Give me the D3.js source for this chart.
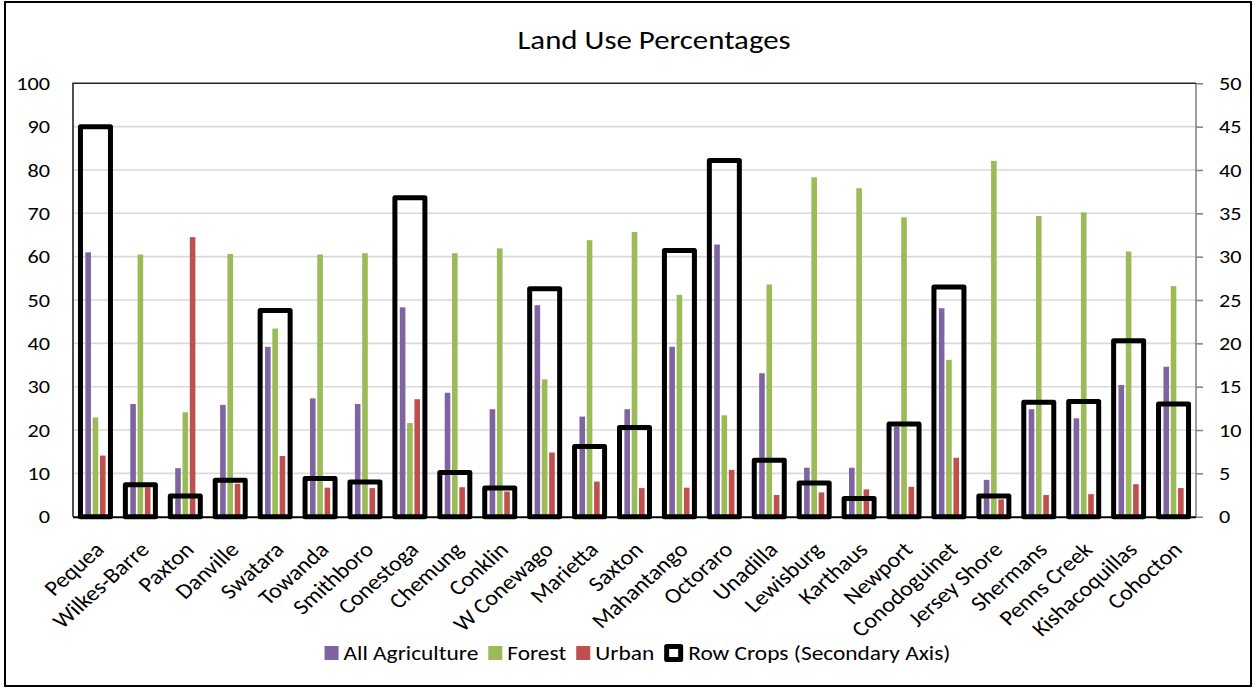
<!DOCTYPE html>
<html>
<head>
<meta charset="utf-8">
<script src="https://cdn.jsdelivr.net/npm/d3@7"></script>
<style>
  html, body { margin: 0; padding: 0; background: #fff; }
  svg { display: block; font-family: Carlito, Lato, "Open Sans", sans-serif; }
</style>
</head>
<body>
<svg id="chart" width="1255" height="688"></svg>
<script>
// Watersheds, in display order
const categories = ["Pequea", "Wilkes-Barre", "Paxton", "Danville", "Swatara", "Towanda",
  "Smithboro", "Conestoga", "Chemung", "Conklin", "W Conewago", "Marietta", "Saxton",
  "Mahantango", "Octoraro", "Unadilla", "Lewisburg", "Karthaus", "Newport", "Conodoguinet",
  "Jersey Shore", "Shermans", "Penns Creek", "Kishacoquillas", "Cohocton"];

// Percent of watershed area (primary axis)
const agriculture = [61.0, 26.0, 11.2, 25.8, 39.2, 27.3, 26.0, 48.3, 28.6, 24.8, 48.8, 23.1, 24.8,
  39.2, 62.8, 33.1, 11.3, 11.3, 20.8, 48.1, 8.5, 24.8, 22.7, 30.4, 34.6];
const forest = [22.9, 60.5, 24.1, 60.6, 43.4, 60.5, 60.8, 21.6, 60.8, 61.9, 31.7, 63.8, 65.7,
  51.2, 23.4, 53.6, 78.3, 75.8, 69.1, 36.2, 82.1, 69.4, 70.2, 61.2, 53.2];
const urban = [14.1, 6.8, 64.5, 7.6, 14.0, 6.7, 6.6, 27.1, 6.8, 5.8, 14.8, 8.1, 6.6,
  6.7, 10.8, 5.0, 5.6, 6.3, 6.9, 13.6, 4.0, 5.0, 5.2, 7.5, 6.6];

// Row crops percent (secondary axis)
const rowCrops = [45.0, 3.7, 2.4, 4.2, 23.8, 4.4, 4.0, 36.8, 5.1, 3.3, 26.3, 8.1, 10.3,
  30.7, 41.1, 6.5, 3.9, 2.1, 10.7, 26.5, 2.4, 13.2, 13.3, 20.3, 13.0];

const leftTicks = [0, 10, 20, 30, 40, 50, 60, 70, 80, 90, 100];
const rightTicks = [0, 5, 10, 15, 20, 25, 30, 35, 40, 45, 50];

const seriesNames = ["All Agriculture", "Forest", "Urban"];
const seriesColors = ["#8064A2", "#9BBB59", "#C0504D"];

const svg = d3.select("#chart");
const W = 1255, H = 688;
const plot = { left: 73, right: 1196, top: 83.3, bottom: 516.7 };
const sx = 1.17;          // the chart's text is drawn slightly wide
const catSx = 1.12;
const tickFont = 19, legendFont = 20, catFont = 21.5, titleFont = 26.4;

// Outer chart frame
svg.append("rect")
  .attr("x", 5).attr("y", 2).attr("width", W - 9).attr("height", H - 4)
  .attr("fill", "#fff").attr("stroke", "#000").attr("stroke-width", 2);

// Title
svg.append("text")
  .attr("transform", `translate(654,49) scale(${sx},1)`)
  .attr("text-anchor", "middle")
  .attr("font-size", titleFont)
  .attr("fill", "#000")
  .text("Land Use Percentages");

const x = d3.scaleBand().domain(categories).range([plot.left, plot.right]).padding(0);
const y = d3.scaleLinear().domain([0, 100]).range([plot.bottom, plot.top]);
const y2 = d3.scaleLinear().domain([0, 50]).range([plot.bottom, plot.top]);

// Gridlines
svg.append("g")
  .selectAll("line")
  .data(leftTicks.filter(t => t > 0 && t < 100))
  .join("line")
  .attr("x1", plot.left).attr("x2", plot.right)
  .attr("y1", d => y(d)).attr("y2", d => y(d))
  .attr("stroke", "#d9d9d9").attr("stroke-width", 1.6);

// Left axis labels
const leftAxis = d3.axisLeft(y).tickValues(leftTicks).tickSize(0);
const gL = svg.append("g").attr("transform", `translate(${plot.left},0)`).call(leftAxis);
gL.select(".domain").remove();
gL.selectAll("text")
  .attr("x", 0)
  .attr("transform", `translate(-23,0) scale(${sx},1)`)
  .attr("font-size", tickFont).attr("fill", "#000")
  .attr("font-family", "Carlito, Lato, sans-serif");

// Right (secondary) axis
const rightAxis = d3.axisRight(y2).tickValues(rightTicks).tickSize(7);
const gR = svg.append("g").attr("transform", `translate(${plot.right},0)`).call(rightAxis);
gR.select(".domain").attr("stroke", "#868686").attr("stroke-width", 1.6).attr("d",
  `M0,${plot.top}V${plot.bottom}`);
gR.selectAll(".tick line").attr("stroke", "#868686").attr("stroke-width", 1.6);
gR.selectAll("text")
  .attr("x", 0)
  .attr("transform", `translate(23,0) scale(${sx},1)`)
  .attr("font-size", tickFont).attr("fill", "#000")
  .attr("font-family", "Carlito, Lato, sans-serif");

// Plot area top and left edges
svg.append("path")
  .attr("d", `M${plot.left},${plot.bottom}V${plot.top}H${plot.right}`)
  .attr("fill", "none").attr("stroke", "#262626").attr("stroke-width", 1.6);

// Clustered bars on the primary axis
const barW = 5.6, barStep = 7.3;
const seriesData = [agriculture, forest, urban];
const barsG = svg.append("g");
seriesData.forEach((vals, si) => {
  barsG.append("g")
    .selectAll("rect")
    .data(vals)
    .join("rect")
    .attr("x", (d, i) => x(categories[i]) + x.bandwidth() / 2 + (si - 1) * barStep - barW / 2)
    .attr("width", barW)
    .attr("y", d => y(d))
    .attr("height", d => y(0) - y(d))
    .attr("fill", seriesColors[si]);
});

// Category axis line
svg.append("line")
  .attr("x1", plot.left).attr("x2", plot.right)
  .attr("y1", plot.bottom + 0.5).attr("y2", plot.bottom + 0.5)
  .attr("stroke", "#000").attr("stroke-width", 2);

// Row crops: outlined boxes on the secondary axis
const boxW = 30;
svg.append("g")
  .selectAll("rect")
  .data(rowCrops)
  .join("rect")
  .attr("x", (d, i) => x(categories[i]) + x.bandwidth() / 2 - boxW / 2)
  .attr("width", boxW)
  .attr("y", d => y2(d))
  .attr("height", d => y2(0) - y2(d))
  .attr("fill", "none")
  .attr("stroke", "#000")
  .attr("stroke-width", 5)
  .attr("stroke-linejoin", "round");

// Rotated category labels
svg.append("g")
  .selectAll("text")
  .data(categories)
  .join("text")
  .attr("transform", d =>
    `translate(${x(d) + x.bandwidth() / 2 + 10},551) scale(${catSx},1) rotate(-45)`)
  .attr("text-anchor", "end")
  .attr("font-size", catFont)
  .attr("fill", "#000")
  .text(d => d);

// Legend
const legendItems = seriesNames.map((n, i) => ({ name: n, color: seriesColors[i], kind: "bar" }))
  .concat([{ name: "Row Crops (Secondary Axis)", kind: "box" }]);
const legend = svg.append("g");
let cursor = 0;
const legendBaseline = 660;
legendItems.forEach(item => {
  const g = legend.append("g").attr("transform", `translate(${cursor},0)`);
  if (item.kind === "bar") {
    g.append("rect").attr("x", 0).attr("y", legendBaseline - 14)
      .attr("width", 14).attr("height", 14).attr("fill", item.color);
  } else {
    g.append("rect").attr("x", 2.5).attr("y", legendBaseline - 13.5)
      .attr("width", 14).attr("height", 13)
      .attr("fill", "#fff").attr("stroke", "#000").attr("stroke-width", 5)
      .attr("stroke-linejoin", "round");
  }
  const markW = item.kind === "bar" ? 14 : 19;
  const t = g.append("text")
    .attr("transform", `translate(${markW + 5},${legendBaseline}) scale(${sx},1)`)
    .attr("font-size", legendFont).attr("fill", "#000").text(item.name);
  cursor += markW + 5 + t.node().getComputedTextLength() * sx + 10;
});
const legendWidth = cursor - 10;
legend.attr("transform", `translate(${637.5 - legendWidth / 2},0)`);
</script>
</body>
</html>
